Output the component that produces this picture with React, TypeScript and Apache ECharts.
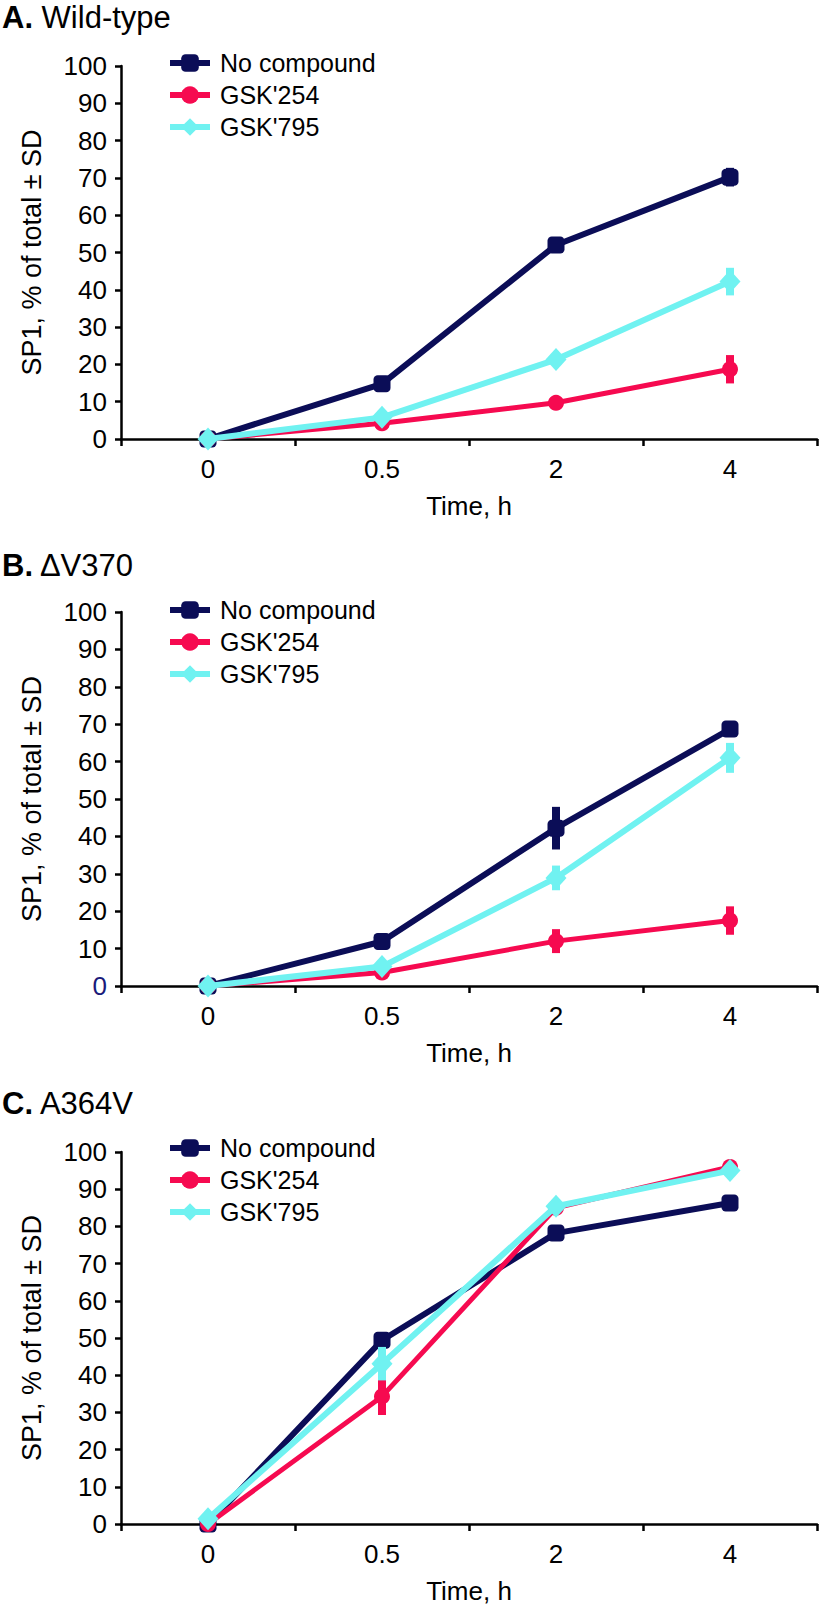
import React, { useEffect, useRef } from "react";
import * as echarts from "echarts";

const timeLabels = ["0", "0.5", "2", "4"];
const seriesNames = ["No compound", "GSK'254", "GSK'795"];
const panelTitles = [
  ["A.", "Wild-type"],
  ["B.", "\u0394V370"],
  ["C.", "A364V"],
];

// Panel A – Wild-type
const noCompA = [0, 14.8, 52.0, 70.2];
const noCompAErr = [0, 1.0, 1.2, 2.5];
const gsk254A = [0, 4.2, 9.7, 18.7];
const gsk254AErr = [0, 0.8, 1.5, 3.8];
const gsk795A = [0, 5.8, 21.3, 42.2];
const gsk795AErr = [0, 1.0, 1.5, 3.7];

// Panel B – ΔV370
const noCompB = [0, 11.9, 42.2, 68.7];
const noCompBErr = [0, 1.0, 5.7, 1.5];
const gsk254B = [0, 3.6, 12.0, 17.5];
const gsk254BErr = [0, 0.8, 3.2, 3.8];
const gsk795B = [0, 5.2, 28.9, 61.0];
const gsk795BErr = [0, 1.0, 3.3, 4.0];

// Panel C – A364V
const noCompC = [0, 49.4, 78.2, 86.3];
const noCompCErr = [0, 1.5, 1.5, 1.5];
const gsk254C = [0, 34.3, 85.0, 96.0];
const gsk254CErr = [0, 5.0, 1.0, 0.8];
const gsk795C = [1.4, 43.1, 85.4, 95.0];
const gsk795CErr = [0.5, 4.5, 1.0, 1.0];

const yTicks = { min: 0, max: 100, interval: 10 };

const COLORS = ["#0b0d57", "#f60a50", "#70f2f1"];
const SYMBOLS = ["roundRect", "circle", "diamond"];
const SYMBOL_SIZES: any[] = [17, 16, [21, 23]];
const LINE_WIDTHS = [6, 5, 6];
const FONT = "'Liberation Sans', Arial, Helvetica, sans-serif";

const panels = [
  { values: [noCompA, gsk254A, gsk795A], errs: [noCompAErr, gsk254AErr, gsk795AErr], top: 66, height: 373, titleY: 19, legendTop: 50, zeroColor: "#000" },
  { values: [noCompB, gsk254B, gsk795B], errs: [noCompBErr, gsk254BErr, gsk795BErr], top: 612, height: 374, titleY: 567, legendTop: 597, zeroColor: "#1a1a7a" },
  { values: [noCompC, gsk254C, gsk795C], errs: [noCompCErr, gsk254CErr, gsk795CErr], top: 1152, height: 372, titleY: 1105, legendTop: 1135, zeroColor: "#000" },
];

export default function App() {
  const ref = useRef<HTMLDivElement>(null);

  useEffect(() => {
    if (!ref.current) return;
    const chart = echarts.init(ref.current, null, { renderer: "svg" });

    const grid: any[] = [];
    const xAxis: any[] = [];
    const yAxis: any[] = [];
    const series: any[] = [];
    const legend: any[] = [];
    const graphic: any[] = [];

    panels.forEach((p, pi) => {
      grid.push({ left: 121, width: 696, top: p.top, height: p.height });
      xAxis.push({
        type: "category",
        gridIndex: pi,
        data: timeLabels,
        boundaryGap: true,
        name: "Time, h",
        nameLocation: "middle",
        nameGap: 54,
        nameTextStyle: { fontSize: 26, color: "#000", fontFamily: FONT, verticalAlign: "top" },
        axisLine: { show: true, lineStyle: { color: "#000", width: 2.5 } },
        axisTick: { show: true, inside: false, length: 7, interval: 0, alignWithLabel: false, lineStyle: { color: "#000", width: 2.5 } },
        axisLabel: { show: true, margin: 17, fontSize: 26, color: "#000", fontFamily: FONT, interval: 0 },
        splitLine: { show: false },
      });
      yAxis.push({
        type: "value",
        gridIndex: pi,
        min: yTicks.min,
        max: yTicks.max,
        interval: yTicks.interval,
        name: "SP1, % of total \u00b1 SD",
        nameLocation: "middle",
        nameGap: 76,
        nameTextStyle: { fontSize: 27, color: "#000", fontFamily: FONT },
        axisLine: { show: true, lineStyle: { color: "#000", width: 2.5 } },
        axisTick: { show: true, inside: false, length: 6, lineStyle: { color: "#000", width: 2.5 } },
        axisLabel: {
          show: true,
          margin: 14,
          fontSize: 26,
          fontFamily: FONT,
          color: (v: any) => (Number(v) === 0 ? p.zeroColor : "#000"),
        },
        splitLine: { show: false },
      });

      p.values.forEach((vals, si) => {
        const errs = p.errs[si];
        const errData = vals.map((v, i) => [i, v - errs[i], v + errs[i]]);
        const color = COLORS[si];
        series.push({
          type: "custom",
          name: seriesNames[si] + " SD",
          xAxisIndex: pi,
          yAxisIndex: pi,
          z: 2 + si,
          silent: true,
          encode: { x: 0, y: [1, 2] },
          data: errData,
          renderItem: (params: any, api: any) => {
            const xi = api.value(0);
            const lo = api.coord([xi, api.value(1)]);
            const hi = api.coord([xi, api.value(2)]);
            return {
              type: "rect",
              shape: { x: lo[0] - 4, y: hi[1], width: 8, height: Math.max(0, lo[1] - hi[1]) },
              style: { fill: color },
            };
          },
        });
        series.push({
          type: "line",
          name: seriesNames[si],
          xAxisIndex: pi,
          yAxisIndex: pi,
          z: 2 + si,
          data: vals,
          symbol: SYMBOLS[si],
          symbolSize: SYMBOL_SIZES[si],
          showSymbol: true,
          lineStyle: { color, width: LINE_WIDTHS[si] },
          itemStyle: { color, borderWidth: 0 },
        });
      });

      legend.push({
        show: true,
        orient: "vertical",
        left: 167,
        top: p.legendTop,
        padding: 0,
        itemWidth: 40,
        itemHeight: 22,
        itemGap: 6,
        data: seriesNames,
        selectedMode: false,
        lineStyle: { width: 6 },
        textStyle: { fontSize: 25, color: "#000", fontFamily: FONT, lineHeight: 26, padding: [0, 0, 0, 5] },
      });

      graphic.push({
        type: "text",
        left: 2,
        top: p.titleY - 17,
        style: {
          text: "{b|" + panelTitles[pi][0] + "} " + panelTitles[pi][1],
          fontSize: 31,
          fontFamily: FONT,
          fill: "#000",
          rich: {
            b: { fontSize: 31, fontWeight: "bold", fontFamily: FONT, fill: "#000" },
          },
        },
      });
    });

    chart.setOption({
      animation: false,
      backgroundColor: "#fff",
      grid,
      xAxis,
      yAxis,
      series,
      legend,
      graphic,
    });

    return () => chart.dispose();
  }, []);

  return (
    <div
      ref={ref}
      style={{ position: "absolute", left: 0, top: 0, width: 820, height: 1610, background: "#fff" }}
    />
  );
}
